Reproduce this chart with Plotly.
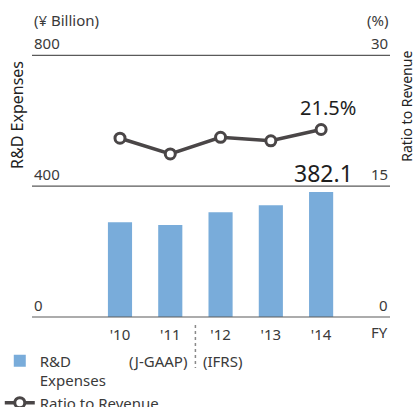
import plotly.graph_objects as go

# Fiscal years and values
years = ["'10", "'11", "'12", "'13", "'14"]
rd_expenses = [290.0, 281.0, 320.5, 342.0, 382.1]      # ¥ billion
ratio_to_revenue = [20.5, 18.7, 20.6, 20.2, 21.5]      # %

left_ticks = [0, 400, 800]
right_ticks = [0, 15, 30]
LEFT_MAX = 800
RIGHT_MAX = 30
# a little headroom above the top rule so it sits inside the plot area
HEAD = 850 / 800
LEFT_TOP = LEFT_MAX * HEAD
RIGHT_TOP = RIGHT_MAX * HEAD

BAR = "#79acda"
LINE = "#4a4647"
TEXT = "#3a3a3a"
GRID = "#5a5a5a"
FONT = "Noto Sans"

fig = go.Figure()

fig.add_trace(go.Bar(
    x=years, y=rd_expenses, name="R&D<br>Expenses", legendgroup="a",
    marker=dict(color=BAR, line=dict(width=0)),
    yaxis="y", hoverinfo="skip",
))
fig.add_trace(go.Scatter(
    x=years, y=ratio_to_revenue, name="Ratio to Revenue", legendgroup="b",
    mode="lines+markers", yaxis="y2",
    line=dict(color=LINE, width=3.5),
    marker=dict(symbol="circle", size=10, color="white",
                line=dict(color=LINE, width=3)),
    hoverinfo="skip",
))

shapes = []
# horizontal rules at the left-axis tick values
for v in left_ticks:
    yp = v / LEFT_TOP
    shapes.append(dict(type="line", xref="paper", x0=0, x1=1, yref="paper",
                       y0=yp, y1=yp, line=dict(color=GRID, width=1.2),
                       layer="above"))
# accounting-standard divider between '11 and '12
shapes.append(dict(type="line", xref="x", x0=1.5, x1=1.5, yref="paper",
                   y0=-0.0287, y1=-0.1832,
                   line=dict(color="#8a8a8a", width=1.5, dash="dot")))

annotations = []
for v in left_ticks:
    annotations.append(dict(text=str(v), xref="paper", x=0, xanchor="left",
                            yref="y", y=v, yanchor="middle", yshift=12,
                            showarrow=False, font=dict(size=15, color=TEXT)))
for v in right_ticks:
    annotations.append(dict(text=str(v), xref="paper", x=1, xanchor="right",
                            yref="y2", y=v, yanchor="middle", yshift=12,
                            showarrow=False, font=dict(size=15, color=TEXT)))

annotations += [
    dict(text="(¥ Billion)", xref="paper", x=0, xanchor="left",
         yref="paper", y=1.0668, yanchor="middle", showarrow=False,
         font=dict(size=15, color=TEXT)),
    dict(text="(%)", xref="paper", x=1, xanchor="right",
         yref="paper", y=1.0668, yanchor="middle", showarrow=False,
         font=dict(size=15, color=TEXT)),
    dict(text="R&D Expenses", xref="paper", x=-0.04, xanchor="center",
         yref="paper", y=0.7256, yanchor="middle",
         textangle=-90, showarrow=False, font=dict(size=16, color="#222")),
    dict(text="Ratio to Revenue", xref="paper", x=1.046, xanchor="center",
         yref="paper", y=0.758, yanchor="middle",
         textangle=-90, showarrow=False, font=dict(size=14, color="#222")),
    dict(text="FY", xref="paper", x=1, xanchor="right", yref="paper",
         y=-0.0539, yanchor="middle", showarrow=False,
         font=dict(size=15, color=TEXT)),
    dict(text="(J-GAAP)", xref="x", x=1.5, xanchor="right", xshift=-6,
         yref="paper", y=-0.158, yanchor="middle", showarrow=False,
         font=dict(size=15, color=TEXT)),
    dict(text="(IFRS)", xref="x", x=1.5, xanchor="left", xshift=6,
         yref="paper", y=-0.158, yanchor="middle", showarrow=False,
         font=dict(size=15, color=TEXT)),
    dict(text=f"{rd_expenses[-1]:.1f}", xref="x", x=years[-1], xshift=2,
         yref="y", y=rd_expenses[-1], yanchor="middle", yshift=19,
         showarrow=False, font=dict(size=23, color="#1e1e1e")),
    dict(text=f"{ratio_to_revenue[-1]:.1f}%", xref="x", x=years[-1], xshift=7,
         yref="y2", y=ratio_to_revenue[-1], yanchor="middle", yshift=22,
         showarrow=False, font=dict(size=20, color="#1e1e1e")),
]

fig.update_layout(
    width=415, height=407,
    margin=dict(l=32, r=25, t=39, b=90, autoexpand=False),
    paper_bgcolor="white", plot_bgcolor="white",
    font=dict(family=FONT, color=TEXT, size=15),
    bargap=0.52,
    xaxis=dict(type="category", range=[-1.75, 5.37], showgrid=False,
               zeroline=False, showline=False, ticks="outside", ticklen=4,
               tickcolor="rgba(0,0,0,0)", tickfont=dict(size=15, color=TEXT)),
    yaxis=dict(range=[0, LEFT_TOP], showgrid=False, zeroline=False,
               showticklabels=False, showline=False),
    yaxis2=dict(range=[0, RIGHT_TOP], overlaying="y", side="right",
                showgrid=False, zeroline=False, showticklabels=False,
                showline=False),
    showlegend=True,
    legend=dict(x=-0.09, xanchor="left", y=-0.0988, yanchor="top",
                orientation="v", valign="top", traceorder="grouped",
                tracegroupgap=0,
                font=dict(size=15, color=TEXT), bgcolor="rgba(0,0,0,0)"),
    shapes=shapes, annotations=annotations,
)

fig.write_html("out.html")
